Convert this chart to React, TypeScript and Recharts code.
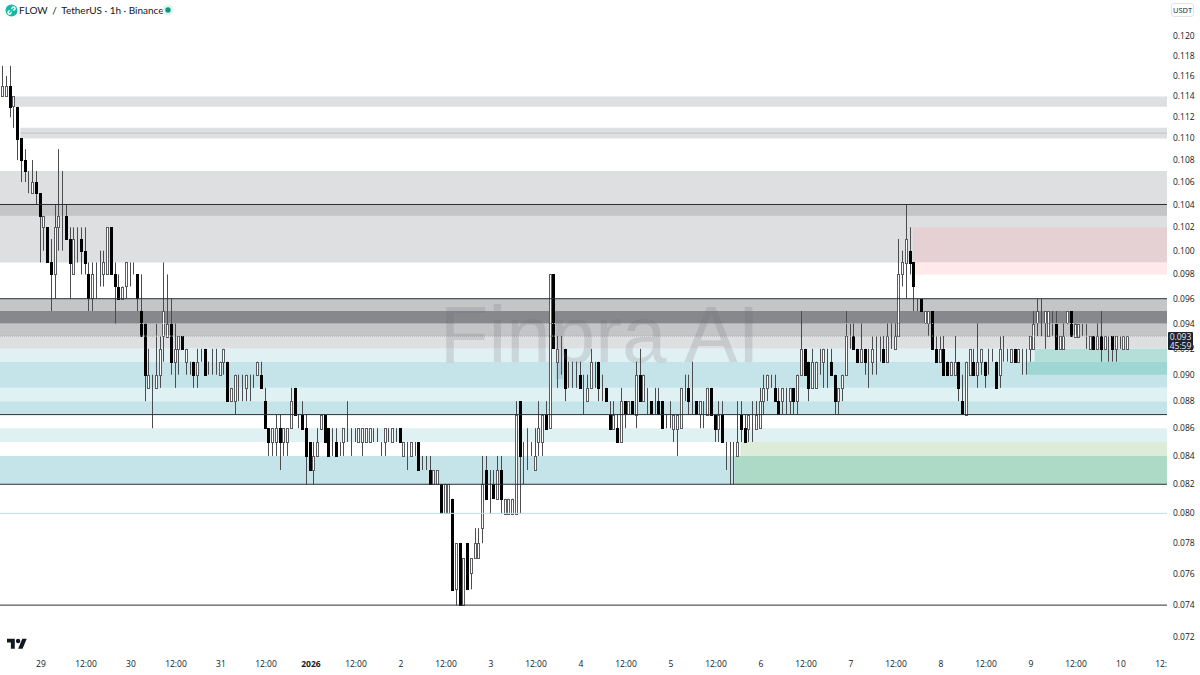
import { Bar, ComposedChart, ReferenceArea, ReferenceLine, XAxis, YAxis } from 'recharts';

// hours from Dec 29 00:00, candle 0 is this hour
const firstHour = -11;

// prices in thousandths of a USDT, ten candles per row
const opens = [
  114, 114, 114, 115, 113, 113, 110, 108, 106, 105,
  106, 105, 102, 102, 99, 98, 102, 103, 103, 101,
  98, 101, 101, 100, 98, 96, 98, 98, 98, 98,
  102, 98, 97, 96, 97, 99, 98, 98, 95, 94,
  89, 89, 89, 90, 93, 93, 94, 91, 92, 93,
  91, 91, 91, 90, 91, 92, 91, 91, 91, 90,
  91, 91, 88, 88, 90, 89, 89, 90, 90, 90,
  90, 88, 86, 85, 85, 86, 85, 85, 86, 89,
  87, 87, 86, 85, 83, 84, 86, 87, 86, 85,
  85, 85, 85, 86, 86, 86, 85, 85, 85, 85,
  86, 86, 85, 85, 86, 85, 86, 86, 84, 85,
  84, 85, 85, 84, 84, 83, 82, 82, 82, 80,
  80, 81, 75, 78, 74, 78, 76, 77, 77, 79,
  83, 82, 82, 81, 83, 80, 80, 80, 80, 88,
  84, 84, 84, 83, 85, 85, 87, 86, 98, 91,
  92, 92, 90, 90, 90, 90, 89, 88, 89, 91,
  91, 89, 89, 87, 86, 86, 85, 88, 87, 88,
  87, 90, 88, 88, 88, 88, 88, 88, 87, 87,
  86, 86, 86, 89, 89, 88, 88, 87, 87, 87,
  89, 87, 86, 87, 85, 84, 84, 84, 87, 86,
  86, 86, 86, 86, 88, 89, 90, 89, 88, 88,
  88, 88, 89, 88, 90, 92, 91, 89, 89, 91,
  91, 91, 91, 90, 88, 89, 90, 93, 93, 92,
  91, 92, 91, 91, 92, 92, 92, 91, 93, 92,
  93, 98, 99, 100, 99, 96, 96, 94, 94, 95,
  92, 91, 92, 91, 90, 90, 91, 88, 87, 90,
  91, 90, 91, 91, 91, 91, 91, 90, 92, 91,
  91, 92, 91, 91, 91, 92, 92, 94, 94, 94,
  93, 94, 94, 92, 92, 94, 95, 93, 93, 94,
  93, 92, 93, 92, 93, 92, 92, 93, 92, 92,
  92, 92,
];
const closes = [
  115, 115, 115, 113, 114, 110, 108, 107, 106, 106,
  105, 103, 103, 99, 98, 102, 103, 103, 101, 99,
  101, 101, 100, 99, 96, 98, 98, 98, 99, 102,
  98, 97, 96, 97, 99, 99, 98, 96, 93, 90,
  90, 89, 90, 92, 95, 94, 91, 92, 93, 92,
  92, 91, 90, 91, 91, 90, 91, 91, 91, 91,
  92, 88, 89, 90, 90, 89, 90, 90, 90, 91,
  89, 86, 85, 86, 86, 85, 86, 86, 88, 87,
  87, 86, 84, 83, 84, 85, 87, 85, 84, 85,
  84, 85, 86, 86, 86, 86, 86, 86, 86, 86,
  86, 86, 85, 86, 86, 86, 86, 85, 85, 85,
  85, 85, 83, 84, 84, 82, 83, 83, 80, 82,
  82, 75, 78, 74, 77, 75, 77, 78, 78, 82,
  81, 82, 81, 83, 81, 81, 81, 81, 87, 84,
  84, 84, 84, 84, 86, 87, 86, 98, 92, 92,
  92, 89, 90, 90, 90, 89, 89, 89, 91, 91,
  89, 89, 88, 86, 87, 85, 88, 87, 88, 87,
  90, 88, 90, 88, 87, 88, 87, 86, 87, 87,
  87, 87, 89, 89, 88, 88, 87, 88, 87, 89,
  87, 86, 87, 85, 85, 84, 84, 85, 86, 85,
  87, 86, 87, 88, 89, 90, 90, 88, 87, 89,
  88, 89, 88, 90, 92, 90, 89, 91, 91, 91,
  92, 91, 90, 88, 89, 90, 93, 93, 92, 91,
  92, 91, 91, 92, 92, 92, 91, 93, 93, 93,
  98, 99, 101, 99, 97, 96, 95, 95, 95, 92,
  91, 92, 90, 90, 91, 91, 89, 87, 91, 92,
  90, 91, 92, 90, 91, 91, 89, 92, 92, 91,
  92, 91, 92, 91, 91, 93, 94, 95, 94, 95,
  95, 94, 92, 93, 93, 95, 93, 94, 94, 94,
  93, 93, 92, 93, 92, 93, 92, 92, 93, 92,
  93, 93,
];
const highs = [
  115, 117, 116, 117, 114, 113, 110, 109, 107, 108,
  107, 105, 103, 102, 101, 104, 109, 107, 104, 102,
  102, 102, 102, 102, 99, 99, 99, 100, 100, 102,
  102, 99, 98, 97, 99, 99, 99, 98, 98, 94,
  92, 90, 94, 93, 99, 98, 96, 94, 93, 93,
  92, 91, 91, 92, 92, 92, 91, 92, 92, 91,
  92, 91, 89, 90, 90, 90, 90, 90, 90, 91,
  91, 89, 86, 86, 87, 87, 86, 86, 89, 89,
  87, 88, 87, 85, 85, 86, 87, 87, 86, 86,
  86, 85, 86, 88, 86, 86, 86, 86, 86, 86,
  86, 86, 85, 86, 86, 86, 86, 86, 85, 85,
  85, 85, 85, 84, 84, 84, 83, 83, 82, 82,
  82, 81, 78, 78, 77, 78, 77, 79, 79, 84,
  84, 83, 83, 84, 84, 81, 81, 81, 88, 88,
  85, 86, 85, 86, 88, 87, 88, 98, 98, 93,
  93, 92, 91, 91, 91, 91, 90, 90, 92, 91,
  91, 90, 89, 88, 88, 87, 89, 88, 88, 88,
  91, 92, 90, 89, 88, 89, 89, 88, 87, 88,
  87, 87, 89, 90, 90, 91, 88, 88, 88, 89,
  89, 87, 88, 88, 85, 85, 85, 88, 88, 87,
  87, 88, 88, 89, 90, 90, 90, 90, 89, 89,
  89, 89, 89, 90, 95, 92, 91, 92, 91, 92,
  92, 92, 92, 90, 89, 90, 95, 94, 94, 92,
  94, 92, 92, 93, 93, 93, 93, 94, 94, 94,
  101, 100, 104, 102, 99, 96, 96, 95, 95, 95,
  93, 93, 93, 91, 91, 93, 91, 90, 91, 92,
  92, 94, 92, 91, 92, 92, 91, 93, 93, 92,
  92, 92, 92, 92, 92, 93, 95, 96, 96, 95,
  95, 95, 95, 93, 94, 95, 95, 94, 94, 94,
  94, 93, 93, 94, 95, 93, 93, 93, 93, 93,
  93, 93,
];
const lows = [
  112, 114, 114, 112, 111, 108, 106, 106, 105, 105,
  104, 99, 100, 99, 95, 96, 100, 100, 101, 96,
  98, 99, 98, 98, 95, 95, 96, 97, 97, 98,
  98, 94, 96, 96, 96, 97, 98, 95, 93, 88,
  89, 86, 89, 89, 91, 93, 90, 89, 90, 92,
  90, 90, 89, 89, 91, 90, 90, 90, 90, 90,
  90, 88, 88, 87, 88, 88, 88, 88, 89, 90,
  89, 86, 84, 84, 84, 83, 84, 84, 86, 87,
  86, 86, 82, 83, 82, 84, 86, 85, 84, 84,
  84, 84, 84, 85, 84, 85, 85, 84, 85, 85,
  85, 85, 84, 84, 85, 85, 85, 85, 84, 83,
  84, 84, 83, 83, 83, 82, 82, 82, 80, 80,
  80, 75, 74, 74, 74, 75, 75, 77, 77, 78,
  81, 80, 81, 81, 80, 80, 80, 80, 80, 80,
  82, 83, 84, 83, 84, 84, 86, 86, 92, 89,
  90, 88, 89, 89, 89, 89, 87, 88, 89, 89,
  88, 88, 88, 86, 86, 85, 85, 86, 87, 87,
  86, 88, 88, 87, 87, 87, 87, 86, 86, 86,
  85, 84, 86, 88, 87, 87, 87, 86, 86, 87,
  87, 85, 85, 85, 83, 82, 82, 84, 85, 85,
  85, 85, 86, 86, 87, 88, 89, 88, 87, 87,
  87, 87, 87, 87, 90, 90, 88, 89, 89, 90,
  89, 89, 90, 87, 87, 88, 90, 92, 92, 91,
  91, 90, 89, 90, 90, 91, 91, 91, 92, 92,
  93, 97, 96, 98, 95, 95, 95, 94, 93, 92,
  91, 91, 90, 90, 90, 90, 88, 87, 87, 90,
  90, 89, 90, 89, 90, 91, 89, 89, 91, 91,
  91, 91, 91, 90, 90, 91, 92, 93, 93, 92,
  93, 93, 92, 92, 92, 94, 93, 93, 93, 93,
  92, 92, 92, 92, 91, 92, 91, 91, 91, 92,
  92, 92,
];

const priceTicks = [
  0.072, 0.074, 0.076, 0.078, 0.08, 0.082, 0.084, 0.086, 0.088, 0.09, 0.092, 0.094,
  0.096, 0.098, 0.1, 0.102, 0.104, 0.106, 0.108, 0.11, 0.112, 0.114, 0.116, 0.118, 0.12,
];
const timeLabels = [
  '29', '12:00', '30', '12:00', '31', '12:00', '2026', '12:00', '2', '12:00', '3', '12:00', '4',
  '12:00', '5', '12:00', '6', '12:00', '7', '12:00', '8', '12:00', '9', '12:00', '10', '12:00',
];
const timeTicks = timeLabels.map((_, i) => i * 12);

// supply / demand boxes: [low, high, hour they start at]
const lightGrayZones = [[0.113, 0.114, -7], [0.11, 0.111, -5.5], [0.099, 0.107, -12], [0.092, 0.093, -12]];
const midGrayZones = [[0.103, 0.104, -12], [0.095, 0.096, -12], [0.093, 0.094, -12]];
const darkGrayZones = [[0.094, 0.095, -12]];
const paleTealZones = [[0.091, 0.092, -12], [0.088, 0.089, -12], [0.085, 0.086, -12]];
const tealZones = [[0.089, 0.091, -12], [0.087, 0.088, -12], [0.082, 0.084, -12]];
const paleGreenZones = [[0.084, 0.085, 186.5]];
const greenZones = [[0.082, 0.084, 185]];
const redZones = [[0.099, 0.102, 232.5]];
const paleRedZones = [[0.098, 0.099, 232.5]];
const mintZones = [[0.091, 0.092, 265]];
const deepMintZones = [[0.09, 0.091, 263]];

const blackLevels = [0.104, 0.096, 0.087, 0.082, 0.074];
const dottedLevels = [0.094, 0.093];

const candles = opens.map((open, i) => ({
  hour: firstHour + i,
  up: closes[i] >= open,
  wick: [lows[i] / 1000, highs[i] / 1000],
  body: [Math.min(open, closes[i]) / 1000, Math.max(open, closes[i]) / 1000],
}));

const FONT = '"Open Sans", sans-serif';
const hourDomain = [-10.93, 300.27];

const Wick = ({ x, y, width, height }: any) => (
  <rect x={Math.round(x + width / 2 - 1)} y={y} width={1} height={Math.max(height, 0)} fill="#4a4c50" />
);

const Body = ({ x, y, width, height, payload }: any) => {
  const left = Math.round(x + width / 2 - 1) - 1 + 0.5;
  return (
    <rect
      x={left}
      y={Math.round(y) + 0.5}
      width={2}
      height={Math.max(Math.round(height), 0)}
      fill={payload.up ? '#ffffff' : '#000000'}
      stroke={payload.up ? '#5a5c60' : '#000000'}
      strokeWidth={1}
    />
  );
};

const TimeTick = ({ x, payload }: any) => {
  const label = timeLabels[payload.value / 12];
  return (
    <svg x={0} y={655} width={1167} height={20}>
      <text
        x={x}
        y={10}
        textAnchor="middle"
        dominantBaseline="middle"
        fontFamily={FONT}
        fontSize={8.5}
        fontWeight={label === '2026' ? 700 : 400}
        fill="#131722"
      >
        {label}
      </text>
    </svg>
  );
};

const zoneLayer = (zones: number[][], color: string) =>
  zones.map(([low, high, start]) => (
    <ReferenceArea
      key={`${color}-${low}`}
      y1={low}
      y2={high}
      x1={Math.max(start, hourDomain[0])}
      x2={hourDomain[1]}
      fill={color}
      fillOpacity={1}
      stroke="none"
    />
  ));

export default function App() {
  return (
    <div style={{ position: 'absolute', left: 0, top: 0, width: 1200, height: 675, background: '#fff', overflow: 'hidden' }}>
      <ComposedChart
        width={1200}
        height={675}
        data={candles}
        margin={{ top: 0, right: 0, bottom: 0, left: 0 }}
      >
        <XAxis
          dataKey="hour"
          type="number"
          domain={hourDomain}
          allowDataOverflow
          ticks={timeTicks}
          interval={0}
          height={20}
          axisLine={false}
          tickLine={false}
          tick={<TimeTick />}
        />
        <XAxis dataKey="hour" xAxisId="wick" type="number" domain={hourDomain} allowDataOverflow hide />
        <YAxis
          orientation="right"
          scale="log"
          domain={[0.07093, 0.12373]}
          allowDataOverflow
          ticks={priceTicks}
          interval={0}
          width={33}
          axisLine={false}
          tickLine={false}
          tickSize={0}
          tickMargin={6}
          tick={{ fontSize: 8.5, fill: '#131722', fontFamily: FONT, textAnchor: 'start' }}
          tickFormatter={(v: number) => v.toFixed(3)}
        />

        {zoneLayer(lightGrayZones, '#dedfe1')}
        {zoneLayer(midGrayZones, '#c4c5c7')}
        {zoneLayer(darkGrayZones, '#86888c')}
        {zoneLayer(paleTealZones, '#e0f1f4')}
        {zoneLayer(tealZones, '#c5e4e9')}
        {zoneLayer(paleGreenZones, '#dcecd9')}
        {zoneLayer(greenZones, '#add9c7')}
        {zoneLayer(redZones, '#e5d0d3')}
        {zoneLayer(paleRedZones, '#ffe9ea')}
        {zoneLayer(mintZones, '#b4dfd9')}
        {zoneLayer(deepMintZones, '#9dd6d3')}

        <ReferenceLine
          segment={[{ x: -5.5, y: 0.1105 }, { x: hourDomain[1], y: 0.1105 }]}
          stroke="#c4c5c7"
          strokeWidth={1}
        />
        <ReferenceLine y={0.08} stroke="#bfdde6" strokeWidth={1} />
        {dottedLevels.map((level) => (
          <ReferenceLine key={level} y={level} stroke="#a8a9ac" strokeWidth={1} strokeDasharray="1 1" />
        ))}
        {blackLevels.map((level) => (
          <ReferenceLine key={level} y={level} stroke="#2e2f33" strokeWidth={1} />
        ))}

        <ReferenceArea
          x1={107}
          x2={191}
          y1={0.0968}
          y2={0.0897}
          fill="none"
          stroke="none"
          label={{
            value: 'Finpra AI',
            position: 'center',
            fontSize: 80,
            fontFamily: '"Liberation Sans", sans-serif',
            fill: 'rgba(110,112,118,0.2)',
          }}
        />

        <Bar xAxisId="wick" dataKey="wick" barSize={1} shape={<Wick />} isAnimationActive={false} />
        <Bar dataKey="body" barSize={3} shape={<Body />} isAnimationActive={false} />
      </ComposedChart>

      {/* pair header */}
      <svg style={{ position: 'absolute', left: 5, top: 4 }} width={13} height={13} viewBox="0 0 13 13">
        <circle cx={6.5} cy={6.5} r={6} fill="#15b8a0" />
        <circle cx={4.5} cy={8.5} r={2.2} fill="#fff" />
        <circle cx={8.5} cy={4.5} r={2.2} fill="#fff" />
        <path d="M4 9l5-5" stroke="#15b8a0" strokeWidth={1.3} />
      </svg>
      <div style={{ position: 'absolute', left: 19, top: 3, fontFamily: 'Lato, sans-serif', fontSize: 10, lineHeight: '15px', color: '#131722', whiteSpace: 'nowrap' }}>
        FLOW<span style={{ margin: '0 4.5px' }}>/</span>TetherUS<span style={{ margin: '0 2.5px' }}>·</span>1h<span style={{ margin: '0 2.5px' }}>·</span>Binance
      </div>
      <svg style={{ position: 'absolute', left: 162, top: 4 }} width={12} height={12}>
        <circle cx={6} cy={6} r={5.5} fill="#e0f3ef" />
        <circle cx={6} cy={6} r={2.7} fill="#089981" />
      </svg>

      {/* price scale extras */}
      <div style={{ position: 'absolute', left: 1171, top: 3, width: 23, height: 14, border: '1px solid #e0e3eb', borderRadius: 3, boxSizing: 'border-box', fontFamily: FONT, fontSize: 7.5, lineHeight: '12px', textAlign: 'center', color: '#131722' }}>
        USDT
      </div>
      <div style={{ position: 'absolute', left: 1168, top: 332, width: 25, height: 18, background: '#1f2430', borderRadius: 1, fontFamily: FONT, fontSize: 8.5, lineHeight: '9px', textAlign: 'center', color: '#e8eaf0' }}>
        0.093<br />45:59
      </div>

      {/* tv logo */}
      <svg style={{ position: 'absolute', left: 7, top: 638 }} width={20} height={12} viewBox="0 4 36 19">
        <path d="M14 22H7V11H0V4h14v18zM28 22h-8l7.5-18h8L28 22z" fill="#131722" />
        <circle cx={20} cy={8} r={4} fill="#131722" />
      </svg>
    </div>
  );
}
